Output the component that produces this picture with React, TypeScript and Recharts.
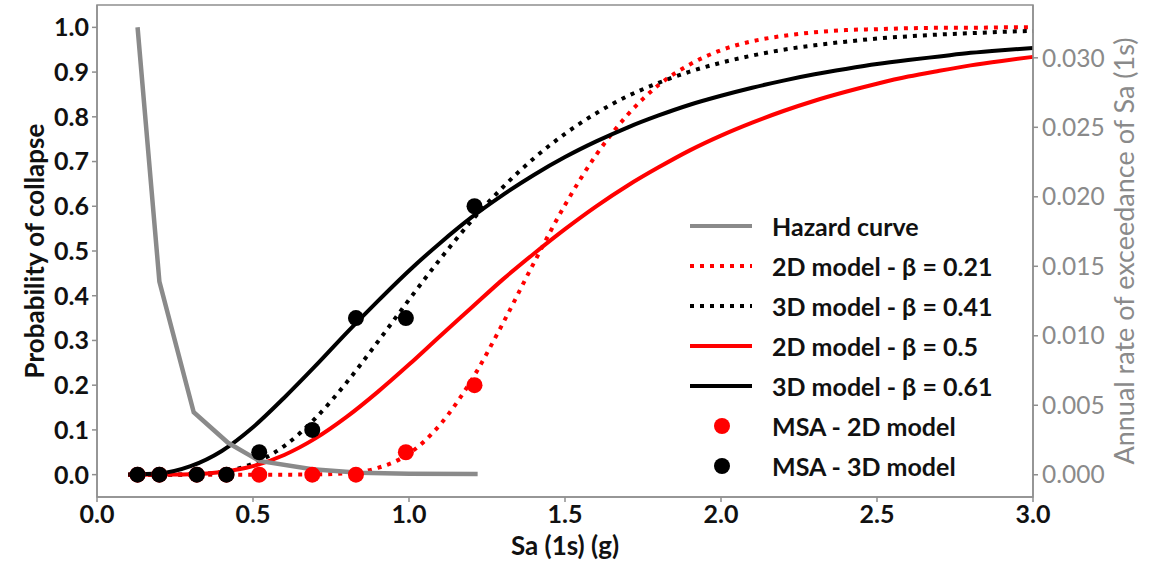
import { ComposedChart, Legend, Line, ReferenceArea, Scatter, XAxis, YAxis } from "recharts"

// Sa (1s) grid the fitted fragility curves are sampled on
const sa = [
  0.1, 0.2, 0.3, 0.4, 0.5, 0.6, 0.7, 0.8, 0.9, 1.0,
  1.1, 1.2, 1.3, 1.4, 1.5, 1.6, 1.7, 1.8, 1.9, 2.0,
  2.1, 2.2, 2.3, 2.4, 2.5, 2.6, 2.7, 2.8, 2.9, 3.0,
]

// probability of collapse, fitted curves
const p2dBeta021 = [
  0, 0, 0, 0, 0, 0, 0.0004, 0.003, 0.015, 0.047,
  0.112, 0.211, 0.337, 0.473, 0.603, 0.715, 0.804, 0.871, 0.917, 0.949,
  0.969, 0.981, 0.989, 0.994, 0.996, 0.998, 0.999, 0.999, 1.0, 1.0,
]
const p3dBeta041 = [
  0, 0, 0.0007, 0.006, 0.025, 0.064, 0.126, 0.206, 0.297, 0.391,
  0.482, 0.567, 0.642, 0.707, 0.762, 0.808, 0.846, 0.876, 0.901, 0.921,
  0.937, 0.95, 0.96, 0.968, 0.975, 0.98, 0.984, 0.987, 0.99, 0.992,
]
const p2dBeta050 = [
  0, 0.0001, 0.001, 0.006, 0.019, 0.044, 0.081, 0.129, 0.185, 0.246,
  0.31, 0.373, 0.436, 0.494, 0.549, 0.6, 0.646, 0.687, 0.725, 0.758,
  0.787, 0.813, 0.836, 0.856, 0.874, 0.89, 0.903, 0.915, 0.925, 0.934,
]
const p3dBeta061 = [
  0.0001, 0.003, 0.019, 0.053, 0.106, 0.172, 0.243, 0.317, 0.388, 0.456,
  0.518, 0.575, 0.625, 0.67, 0.71, 0.745, 0.776, 0.803, 0.827, 0.847,
  0.865, 0.881, 0.895, 0.907, 0.918, 0.927, 0.935, 0.943, 0.949, 0.954,
]

// multiple stripe analysis results
const msaSa = [0.13, 0.2, 0.32, 0.415, 0.52, 0.69, 0.83, 0.99, 1.21]
const msa2d = [0, 0, 0, 0, 0, 0, 0, 0.05, 0.2]
const msa3d = [0, 0, 0, 0, 0.05, 0.1, 0.35, 0.35, 0.6]

// site hazard curve (right axis)
const hazardSa = [0.13, 0.2, 0.31, 0.42, 0.52, 0.69, 0.84, 1.0, 1.22]
const hazardRate = [0.0322, 0.0139, 0.0045, 0.0023, 0.001, 0.0004, 0.00015, 0.00008, 0.00005]

const xTicks = [0, 0.5, 1.0, 1.5, 2.0, 2.5, 3.0]
const pTicks = [0, 0.1, 0.2, 0.3, 0.4, 0.5, 0.6, 0.7, 0.8, 0.9, 1.0]
const rateTicks = [0, 0.005, 0.01, 0.015, 0.02, 0.025, 0.03]

const RED = "#ff0000"
const BLACK = "#000000"
const GREY = "#8a8a8a"
const SPINE = "#8f8f8f"
const FONT = "Lato, 'Open Sans', sans-serif"
const DOTTED = "4 6"

const rows = (xs: number[], ys: number[]) => xs.map((x, i) => ({ x, y: ys[i] }))

const curves = [
  { name: "2D model - β = 0.21", values: p2dBeta021, color: RED, dash: DOTTED },
  { name: "3D model - β = 0.41", values: p3dBeta041, color: BLACK, dash: DOTTED },
  { name: "2D model - β = 0.5", values: p2dBeta050, color: RED, dash: undefined },
  { name: "3D model - β = 0.61", values: p3dBeta061, color: BLACK, dash: undefined },
]

const points = [
  { name: "MSA - 2D model", values: msa2d, color: RED },
  { name: "MSA - 3D model", values: msa3d, color: BLACK },
]

const legendItems = [
  { label: "Hazard curve", color: GREY, kind: "line", dash: undefined as string | undefined },
  ...curves.map((c) => ({ label: c.name, color: c.color, kind: "line", dash: c.dash })),
  ...points.map((p) => ({ label: p.name, color: p.color, kind: "dot", dash: undefined })),
]

function LegendBox() {
  return (
    <div style={{ fontFamily: FONT, fontWeight: 700, fontSize: 25, color: "#111" }}>
      {legendItems.map((item) => (
        <div key={item.label} style={{ display: "flex", alignItems: "center", height: 40 }}>
          <svg width={82} height={20}>
            {item.kind === "line" ? (
              <line x1={0} x2={62} y1={10} y2={10} stroke={item.color} strokeWidth={4} strokeDasharray={item.dash} />
            ) : (
              <circle cx={32} cy={10} r={8} fill={item.color} />
            )}
          </svg>
          <span style={{ whiteSpace: "nowrap" }}>{item.label}</span>
        </div>
      ))}
    </div>
  )
}

const dotShape = (color: string) => (props: any) => <circle cx={props.cx} cy={props.cy} r={8} fill={color} />

export default function App() {
  return (
    <div style={{ position: "absolute", left: 0, top: 0, background: "#fff" }}>
      <ComposedChart width={1150} height={563} margin={{ top: 5, right: 0, bottom: 0, left: 0 }}>
        <XAxis
          dataKey="x"
          type="number"
          domain={[0, 3]}
          ticks={xTicks}
          tickFormatter={(v: number) => v.toFixed(1)}
          height={66}
          tickSize={5}
          tickMargin={3}
          stroke={SPINE}
          strokeWidth={1.5}
          tick={{ fill: "#111", fontSize: 25, fontWeight: 700, fontFamily: FONT }}
          label={{
            value: "Sa (1s) (g)",
            position: "insideBottom",
            offset: 8,
            style: { fill: "#111", fontSize: 26, fontWeight: 700, fontFamily: FONT },
          }}
        />
        <YAxis
          yAxisId="p"
          dataKey="y"
          type="number"
          domain={[-0.05, 1.05]}
          ticks={pTicks}
          tickFormatter={(v: number) => v.toFixed(1)}
          width={97}
          tickSize={5}
          tickMargin={3}
          stroke={SPINE}
          strokeWidth={1.5}
          tick={{ fill: "#111", fontSize: 25, fontWeight: 700, fontFamily: FONT }}
          label={{
            value: "Probability of collapse",
            angle: -90,
            position: "center",
            dx: -14,
            style: { fill: "#111", fontSize: 26, fontWeight: 700, fontFamily: FONT },
          }}
        />
        <YAxis
          yAxisId="rate"
          orientation="right"
          dataKey="y"
          type="number"
          domain={[-0.0016, 0.0338]}
          ticks={rateTicks}
          tickFormatter={(v: number) => v.toFixed(3)}
          width={117}
          tickSize={5}
          tickMargin={4}
          stroke={SPINE}
          strokeWidth={1.5}
          tick={{ fill: GREY, fontSize: 24.5, fontFamily: FONT }}
          label={{
            value: "Annual rate of exceedance of Sa (1s)",
            angle: -90,
            position: "center",
            dx: 33,
            style: { fill: GREY, fontSize: 27, fontFamily: FONT },
          }}
        />
        <ReferenceArea yAxisId="p" x1={0} x2={3} y1={-0.05} y2={1.05} fill="none" stroke={SPINE} strokeWidth={1.5} />
        <Legend
          content={() => <LegendBox />}
          layout="horizontal"
          align="center"
          verticalAlign="middle"
          wrapperStyle={{ left: 690, top: 206, width: 360, height: 290 }}
        />
        {curves.map((c) => (
          <Line
            key={c.name}
            yAxisId="p"
            data={rows(sa, c.values)}
            dataKey="y"
            name={c.name}
            type="monotone"
            stroke={c.color}
            strokeWidth={4}
            strokeDasharray={c.dash}
            dot={false}
            activeDot={false}
            isAnimationActive={false}
          />
        ))}
        {points.map((p) => (
          <Scatter
            key={p.name}
            yAxisId="p"
            data={rows(msaSa, p.values)}
            dataKey="y"
            name={p.name}
            fill={p.color}
            shape={dotShape(p.color)}
            isAnimationActive={false}
          />
        ))}
        <Line
          yAxisId="rate"
          data={rows(hazardSa, hazardRate)}
          dataKey="y"
          name="Hazard curve"
          type="linear"
          stroke={GREY}
          strokeWidth={4.5}
          dot={false}
          activeDot={false}
          isAnimationActive={false}
        />
      </ComposedChart>
    </div>
  )
}
